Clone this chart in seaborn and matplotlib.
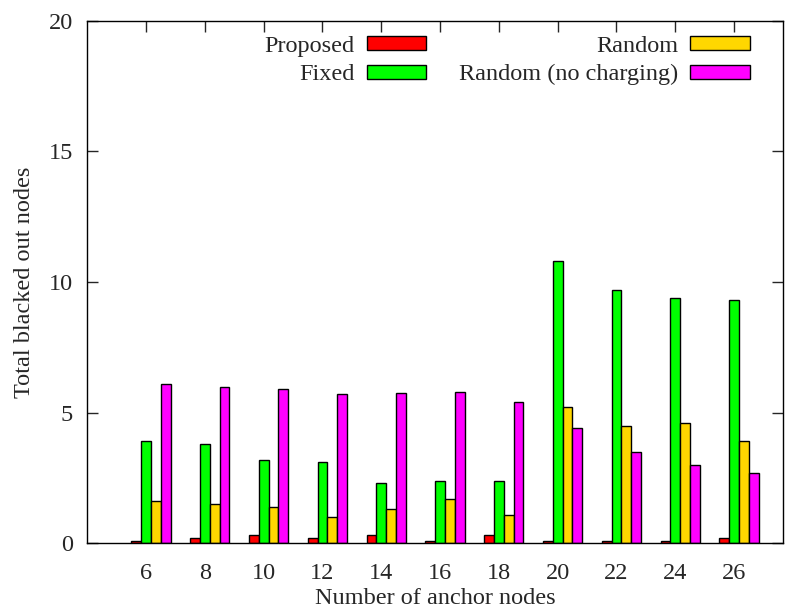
import matplotlib
matplotlib.use("Agg")
import matplotlib.pyplot as plt
import seaborn as sns
import pandas as pd

anchors = ["6", "8", "10", "12", "14", "16", "18", "20", "22", "24", "26"]
series_names = ["Proposed", "Fixed", "Random", "Random (no charging)"]
proposed = [0.1, 0.2, 0.3, 0.2, 0.3, 0.1, 0.3, 0.1, 0.1, 0.1, 0.2]
fixed = [3.9, 3.8, 3.2, 3.1, 2.3, 2.4, 2.4, 10.8, 9.7, 9.4, 9.3]
random_ = [1.6, 1.5, 1.4, 1.0, 1.3, 1.7, 1.1, 5.2, 4.5, 4.6, 3.9]
random_nc = [6.1, 6.0, 5.9, 5.7, 5.75, 5.8, 5.4, 4.4, 3.5, 3.0, 2.7]
colors = ["#ff0000", "#00ff00", "#ffd700", "#ff00ff"]
y_ticks = [0, 5, 10, 15, 20]

rows = []
for name, vals in zip(series_names, [proposed, fixed, random_, random_nc]):
    for a, v in zip(anchors, vals):
        rows.append({"anchors": a, "series": name, "value": v})
df = pd.DataFrame(rows)

sns.set_style("ticks")
plt.rcParams["font.family"] = ["Liberation Serif", "DejaVu Serif"]
FS = 17.5
plt.rcParams["font.size"] = FS

fig = plt.figure(figsize=(7.86, 6.12), dpi=100)
ax = fig.add_axes([86.7 / 786, 1 - 543.3 / 612, (783 - 86.7) / 786, (543.3 - 20.7) / 612])

sns.barplot(data=df, x="anchors", y="value", hue="series", order=anchors,
            hue_order=series_names, palette=colors, width=2 / 3,
            errorbar=None, edgecolor="black", linewidth=1.0, saturation=1,
            ax=ax)

handles, labels = ax.get_legend_handles_labels()
if ax.get_legend() is not None:
    ax.get_legend().remove()

# gnuplot-like tick placement (ticks slightly left of group center)
n = len(anchors)
tick_pos = [i - 1 / 12 for i in range(n)]
ax.set_xticks(tick_pos)
ax.set_xticklabels(anchors)
ax.set_xlim(-1.093, 10.75)
ax.set_ylim(0, 20)
ax.set_yticks(y_ticks)

for s in ax.spines.values():
    s.set_visible(True)
    s.set_linewidth(1.0)
    s.set_color("black")

ax.tick_params(axis="y", direction="in", length=8, width=1, left=True, right=True,
               labelsize=FS, pad=10)
ax.tick_params(axis="x", direction="in", length=8, width=1, bottom=False, top=True,
               labelsize=FS, pad=14)

ax.set_xlabel("Number of anchor nodes", fontsize=FS, labelpad=3)
ax.set_ylabel("Total blacked out nodes", fontsize=FS, labelpad=10)

leg = ax.legend(handles, labels, ncol=2, markerfirst=False, frameon=False,
                loc="upper right", bbox_to_anchor=(750 / 786, 1 - 36 / 612),
                bbox_transform=fig.transFigure, borderpad=0, borderaxespad=0,
                handlelength=2.45, handleheight=0.52, handletextpad=0.5,
                columnspacing=1.35, labelspacing=0.3, fontsize=FS)

fig.savefig("out.png", dpi=100)
